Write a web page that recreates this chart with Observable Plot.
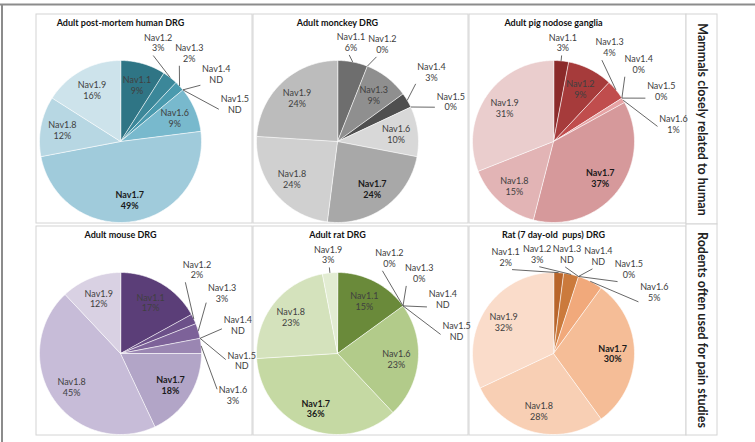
<!DOCTYPE html>
<html><head><meta charset="utf-8">
<script src="https://cdn.jsdelivr.net/npm/d3@7"></script>
<script src="https://cdn.jsdelivr.net/npm/@observablehq/plot@0.6"></script>
<style>
html,body{margin:0;padding:0;background:#fff;}
#chart svg{display:block}
</style></head><body><div id="chart"></div>
<script>
// ---- data ----
const subtypes = ["Nav1.1","Nav1.2","Nav1.3","Nav1.4","Nav1.5","Nav1.6","Nav1.7","Nav1.8","Nav1.9"];
const panelTitles = ["Adult post-mortem human DRG","Adult monckey DRG","Adult pig nodose ganglia",
                     "Adult mouse DRG","Adult rat DRG","Rat (7 day-old  pups) DRG"];
const rowLabels = ["Mammals closely related to human","Rodents often used for pain studies"];
// percentages; null = ND (not detected)
const humanDRG  = [9, 3, 2, null, null, 9, 49, 12, 16];
const monkeyDRG = [6, 0, 9, 3, 0, 10, 24, 24, 24];
const pigNodose = [3, 9, 4, 0, 0, 1, 37, 15, 31];
const mouseDRG  = [17, 2, 3, null, null, 3, 18, 45, 12];
const ratDRG    = [15, 0, 0, null, null, 23, 36, 23, 3];
const ratPupDRG = [2, 3, null, null, 0, 5, 30, 28, 32];
const panelValues = [humanDRG, monkeyDRG, pigNodose, mouseDRG, ratDRG, ratPupDRG];

// ---- styles ----
const panelColors = [
  ["#2f7585","#3b8799","#4a9aae","#5aa8bb","#66b0c3","#78b9cd","#a0cbdb","#b7d7e3","#cde3eb"],
  ["#6e6e6e","#7e7e7e","#8f8f8f","#4f4f4f","#5f5f5f","#d8d8d8","#a8a8a8","#d0d0d0","#bcbcbc"],
  ["#8b2a2a","#a63b3b","#c04d4d","#c85a5a","#d06a6a","#e6a3a4","#d6999b","#e2b4b5","#eacdcd"],
  ["#5b3e78","#6c5089","#7d6299","#8a70a5","#937aab","#9a86b2","#b2a5c7","#c7bcd8","#d9d1e3"],
  ["#6a8a3a","#7c9a4a","#8eaa5a","#9cb76a","#a7c078","#b2cb8a","#c5d9a3","#d4e2bc","#e2ecd2"],
  ["#b8652b","#cb7a3c","#dc8a4e","#e6975e","#eba06a","#f1a97b","#f5bd97","#f8cfb4","#fadcca"]
];

// ---- layout ----
const W = 755, H = 442;
const colX0 = [36, 253, 469], colX1 = [252, 468, 686];
const rowY0 = [14, 226], rowY1 = [223, 435];
const sideX0 = 686, sideX1 = 717, sideY = [14, 224, 435];
const R = 81, offX = 84, offY = 127;
const FAN = 17;            // angular spacing of outside labels (degrees)
const FONT = "Lato, 'Open Sans', sans-serif";

const rad = d => d * Math.PI / 180;
const polar = (cx, cy, r, deg) => [cx + r * Math.sin(rad(deg)), cy - r * Math.cos(rad(deg))];

function fan(mids, s) {
  let groups = mids.map(m => ({items: [m], center: m}));
  let changed = true;
  while (changed) {
    changed = false;
    for (let i = 0; i < groups.length - 1; i++) {
      const g = groups[i], h = groups[i + 1];
      const gEnd = g.center + (g.items.length - 1) / 2 * s;
      const hStart = h.center - (h.items.length - 1) / 2 * s;
      if (hStart - gEnd < s) {
        const items = g.items.concat(h.items);
        groups.splice(i, 2, {items, center: d3.mean(items)});
        changed = true; break;
      }
    }
  }
  return groups.flatMap(g => g.items.map((_, k) => g.center + (k - (g.items.length - 1) / 2) * s));
}

const slicePts = [], inLabels = [], outLabels = [], leaders = [], titles = [], frames = [];
panelValues.forEach((vals, p) => {
  const c = p % 3, r = Math.floor(p / 3);
  const cx = colX0[c] + offX, cy = rowY0[r] + offY;
  frames.push({x1: colX0[c], x2: colX1[c], y1: rowY0[r], y2: rowY1[r]});
  titles.push({x: cx, y: rowY0[r] + 9, text: panelTitles[p]});
  const total = d3.sum(vals, v => v ?? 0);
  let cum = 0;
  const outside = [];
  vals.forEach((v, i) => {
    const val = v ?? 0;
    const a0 = cum / total * 360, a1 = (cum + val) / total * 360;
    cum += val;
    const key = p + "-" + i, color = panelColors[p][i];
    if (val > 0) {
      slicePts.push({key, color, x: cx, y: cy});
      const n = Math.max(2, Math.ceil(a1 - a0));
      for (let k = 0; k <= n; k++) {
        const [x, y] = polar(cx, cy, R, a0 + (a1 - a0) * k / n);
        slicePts.push({key, color, x, y});
      }
    }
    const mid = (a0 + a1) / 2;
    const text = subtypes[i] + "\n" + (v == null ? "ND" : v + "%");
    const bold = subtypes[i] === "Nav1.7";
    if (v != null && v >= 7) {
      const [x, y] = polar(cx, cy, R * 0.73, mid);
      inLabels.push({x, y, text, bold});
    } else {
      outside.push({mid, text, bold});
    }
  });
  const angs = fan(outside.map(o => o.mid), FAN);
  outside.forEach((o, k) => {
    const a = angs[k];
    const s = Math.abs(Math.sin(rad(a))), co = Math.abs(Math.cos(rad(a)));
    const rl = R * (1.2 + 0.3 * s);
    const [x, y] = polar(cx, cy, rl, a);
    outLabels.push({x, y, text: o.text, bold: o.bold});
    const t = Math.min(s > 0.01 ? 15 / s : 1e9, co > 0.01 ? 12 / co : 1e9);
    const re = Math.max(R + 4, rl - t - 1);
    const [x1, y1] = polar(cx, cy, R, o.mid);
    const [x2, y2] = polar(cx, cy, re, a);
    leaders.push({x1, y1, x2, y2});
  });
});
const sideBoxes = rowLabels.map((t, i) => ({x1: sideX0, x2: sideX1, y1: sideY[i], y2: sideY[i + 1],
  x: (sideX0 + sideX1) / 2, y: (sideY[i] + sideY[i + 1]) / 2, text: t}));
const allLabels = inLabels.concat(outLabels);

const chart = Plot.plot({
  width: W, height: H, margin: 0,
  x: {domain: [0, W], range: [0, W], axis: null},
  y: {domain: [0, H], range: [0, H], axis: null},
  color: {type: "identity"},
  style: {fontFamily: FONT, background: "white"},
  marks: [
    Plot.ruleY([4], {x1: 0, x2: W, stroke: "#8c8c8c", strokeWidth: 2}),
    Plot.ruleX([1.5], {y1: 4, y2: H, stroke: "#8c8c8c", strokeWidth: 2}),
    Plot.rect(frames, {x1: "x1", x2: "x2", y1: "y1", y2: "y2", fill: "white", stroke: "#d4d4d4", strokeWidth: 1}),
    Plot.rect(sideBoxes, {x1: "x1", x2: "x2", y1: "y1", y2: "y2", fill: "white", stroke: "#d4d4d4", strokeWidth: 1}),
    Plot.line(slicePts, {x: "x", y: "y", z: "key", fill: "color", stroke: "white", strokeWidth: 0.6, curve: "linear-closed"}),
    Plot.link(leaders, {x1: "x1", y1: "y1", x2: "x2", y2: "y2", stroke: "#404040", strokeWidth: 0.8}),
    Plot.text(allLabels.filter(d => !d.bold), {x: "x", y: "y", text: "text", fill: "#404040", fontSize: 9, lineHeight: 1.2}),
    Plot.text(allLabels.filter(d => d.bold), {x: "x", y: "y", text: "text", fill: "#1a1a1a", fontSize: 9, fontWeight: "bold", lineHeight: 1.2}),
    Plot.text(titles, {x: "x", y: "y", text: "text", fill: "#111", fontSize: 9, fontWeight: "bold"}),
    Plot.text(sideBoxes, {x: "x", y: "y", text: "text", rotate: 90, fill: "#222", fontSize: 12.5, fontWeight: "bold"})
  ]
});
document.getElementById("chart").appendChild(chart);
</script>
</body></html>
